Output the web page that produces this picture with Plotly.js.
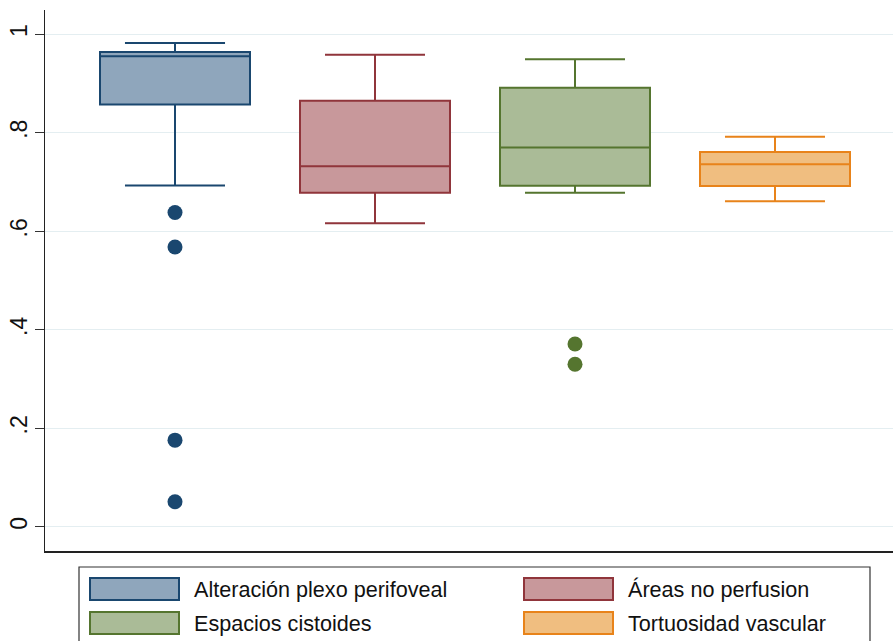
<!DOCTYPE html>
<html>
<head>
<meta charset="utf-8">
<script src="https://cdn.plot.ly/plotly-3.0.1.min.js"></script>
<style>html,body{margin:0;padding:0;background:#fff;}#chart{width:893px;height:641px;}</style>
</head>
<body>
<div id="chart"></div>
<script>
// Data
const categories = ["Alteración plexo perifoveal", "Áreas no perfusion", "Espacios cistoides", "Tortuosidad vascular"];
const lowerWhisker = [0.693, 0.616, 0.678, 0.661];
const q1Values     = [0.857, 0.678, 0.6925, 0.692];
const medians      = [0.955, 0.732, 0.770, 0.736];
const q3Values     = [0.964, 0.865, 0.891, 0.761];
const upperWhisker = [0.982, 0.958, 0.949, 0.792];
const outliers     = [[0.638, 0.568, 0.176, 0.051], [], [0.371, 0.330], []];
const yTickVals    = [0, 0.2, 0.4, 0.6, 0.8, 1];
const yTickText    = ["0", ".2", ".4", ".6", ".8", "1"];

// Styles
const lineColors = ["#1a476f", "#90353b", "#55752f", "#e8831a"];
const fillColors = ["#8fa6bc", "#c8989b", "#aabb97", "#f0be80"];

const traces = [];
categories.forEach((c, i) => {
  traces.push({
    type: "box",
    name: c,
    x: [c],
    q1: [q1Values[i]], median: [medians[i]], q3: [q3Values[i]],
    lowerfence: [lowerWhisker[i]], upperfence: [upperWhisker[i]],
    width: 0.75,
    whiskerwidth: 0.667,
    line: {color: lineColors[i], width: 2},
    fillcolor: fillColors[i],
    boxpoints: false,
    showlegend: false,
    hoverinfo: "skip"
  });
  if (outliers[i].length) {
    traces.push({
      type: "scatter", mode: "markers",
      x: outliers[i].map(() => c), y: outliers[i],
      marker: {color: lineColors[i], size: 15},
      showlegend: false, hoverinfo: "skip"
    });
  }
});

// Plot area geometry (pixels) for a manual Stata-like legend
const L = 45, R = 0, T = 10, B = 90, W = 893, H = 641;
const pw = W - L - R, ph = H - T - B;
const px = v => (v - L) / pw;
const py = v => (H - B - v) / ph;

const shapes = [{
  type: "rect", xref: "paper", yref: "paper",
  x0: px(79), x1: px(870), y0: py(567), y1: py(660),
  line: {color: "#333", width: 1.2}, fillcolor: "rgba(0,0,0,0)"
}];
const annotations = [];
categories.forEach((c, i) => {
  const col = i % 2, row = Math.floor(i / 2);
  const sx = 90 + col * 434, sy = 578 + row * 34;
  shapes.push({
    type: "rect", xref: "paper", yref: "paper",
    x0: px(sx), x1: px(sx + 89), y0: py(sy), y1: py(sy + 22),
    line: {color: lineColors[i], width: 2}, fillcolor: fillColors[i]
  });
  annotations.push({
    xref: "paper", yref: "paper", x: px(sx + 102), y: py(sy + 11),
    xanchor: "left", yanchor: "middle", showarrow: false,
    text: c, font: {family: "Liberation Sans, Arial, sans-serif", size: 21.6, color: "#111"}
  });
});

const layout = {
  width: W, height: H,
  margin: {l: L, r: R, t: T, b: B, pad: 0},
  paper_bgcolor: "#fff", plot_bgcolor: "#fff",
  showlegend: false,
  boxmode: "overlay",
  font: {family: "Liberation Sans, Arial, sans-serif", size: 21, color: "#111"},
  xaxis: {
    type: "category", categoryorder: "array", categoryarray: categories,
    range: [-0.65, 3.59], showticklabels: false, ticks: "",
    showgrid: false, zeroline: false,
    showline: true, linecolor: "#222", linewidth: 1.5
  },
  yaxis: {
    range: [-0.049, 1.049], tickvals: yTickVals, ticktext: yTickText,
    tickangle: -90, ticks: "outside", ticklen: 9, tickwidth: 1.2, tickcolor: "#333",
    ticklabelstandoff: -2,
    showgrid: true, gridcolor: "#e4eef1", gridwidth: 1.2, zeroline: false,
    showline: true, linecolor: "#222", linewidth: 1.5,
    tickfont: {size: 23, color: "#111"}
  },
  shapes: shapes,
  annotations: annotations
};

Plotly.newPlot("chart", traces, layout, {displayModeBar: false, staticPlot: true});
</script>
</body>
</html>
